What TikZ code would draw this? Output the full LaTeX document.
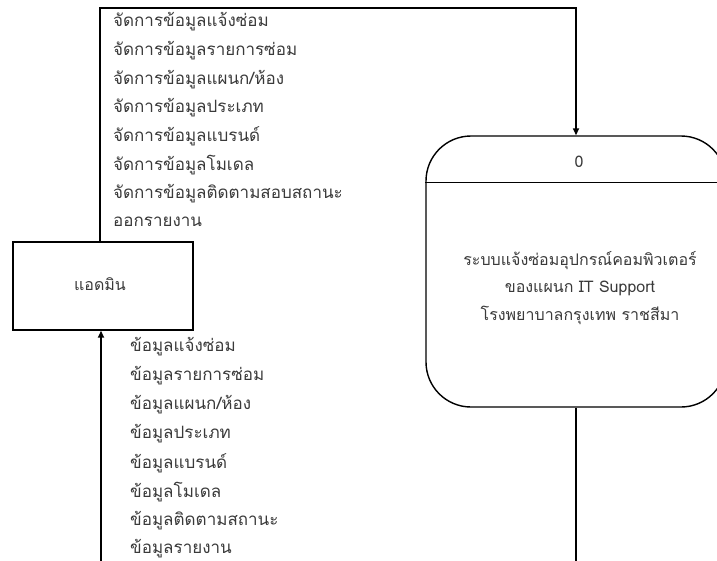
\documentclass[tikz,border=0pt]{standalone}
\usepackage{fontspec}
\newfontfamily\thaifont[Script=Thai]{Loma}
\usetikzlibrary{arrows.meta}
\definecolor{txt}{HTML}{3A3A3A}
\tikzset{
  lbl/.style={anchor=west, inner sep=0pt, text=txt, font=\thaifont\fontsize{17}{20}\selectfont},
  ctr/.style={inner sep=0pt, text=txt, font=\thaifont\fontsize{16}{27.5}\selectfont, align=center},
  flow/.style={line width=1.6pt, -{Triangle[length=7pt,width=6pt]}},
  plain/.style={line width=1.6pt},
  boxstyle/.style={draw, line width=1.4pt, rectangle, inner sep=0pt},
}
\begin{document}
\begin{tikzpicture}[x=1pt,y=-1pt]
\useasboundingbox (0,0) rectangle (717,560);
\fill[white] (0,0) rectangle (717,560);
\clip (0,0) rectangle (717,560);
% external entity
\node[boxstyle, minimum width=180pt, minimum height=88pt] (admin) at (103,286) {};
\node[ctr] (adminlbl) at (100,284) {แอดมิน};
% process
\node[boxstyle, rounded corners=45pt, minimum width=300pt, minimum height=271pt] (proc) at (576,271.5) {};
\draw[line width=1.4pt] ([yshift=-47pt]proc.north west) coordinate (dl) -- ([yshift=-47pt]proc.north east) coordinate (dr);
\node[ctr] (pid) at (579,162) {0};
\node[ctr] (pname) at (580,288) {ระบบแจ้งซ่อมอุปกรณ์คอมพิวเตอร์\\ของแผนก IT Support\\โรงพยาบาลกรุงเทพ ราชสีมา};
% top connector
\coordinate (tl) at (100,8);
\coordinate (tr) at (576,8);
\draw[flow] ([xshift=-3pt]admin.north) -- (tl) -- (tr) -- (proc.north);
% bottom connectors
\coordinate (bl) at (101,566);
\coordinate (br) at (576,566);
\draw[plain] (proc.south) -- (br);
\draw[flow] (bl) -- ([xshift=-2pt]admin.south);
% top labels
\node[lbl] (t1) at (113,22) {จัดการข้อมูลแจ้งซ่อม};
\node[lbl] (t2) at (113,50.6) {จัดการข้อมูลรายการซ่อม};
\node[lbl] (t3) at (113,79.2) {จัดการข้อมูลแผนก/ห้อง};
\node[lbl] (t4) at (113,107.8) {จัดการข้อมูลประเภท};
\node[lbl] (t5) at (113,136.4) {จัดการข้อมูลแบรนด์};
\node[lbl] (t6) at (113,165) {จัดการข้อมูลโมเดล};
\node[lbl] (t7) at (113,193.6) {จัดการข้อมูลติดตามสอบสถานะ};
\node[lbl] (t8) at (113,222.2) {ออกรายงาน};
% bottom labels
\node[lbl] (b1) at (130,347) {ข้อมูลแจ้งซ่อม};
\node[lbl] (b2) at (130,376) {ข้อมูลรายการซ่อม};
\node[lbl] (b3) at (130,405) {ข้อมูลแผนก/ห้อง};
\node[lbl] (b4) at (130,434) {ข้อมูลประเภท};
\node[lbl] (b5) at (130,463) {ข้อมูลแบรนด์};
\node[lbl] (b6) at (130,492) {ข้อมูลโมเดล};
\node[lbl] (b7) at (130,521) {ข้อมูลติดตามสถานะ};
\node[lbl] (b8) at (130,549) {ข้อมูลรายงาน};
\end{tikzpicture}
\end{document}
